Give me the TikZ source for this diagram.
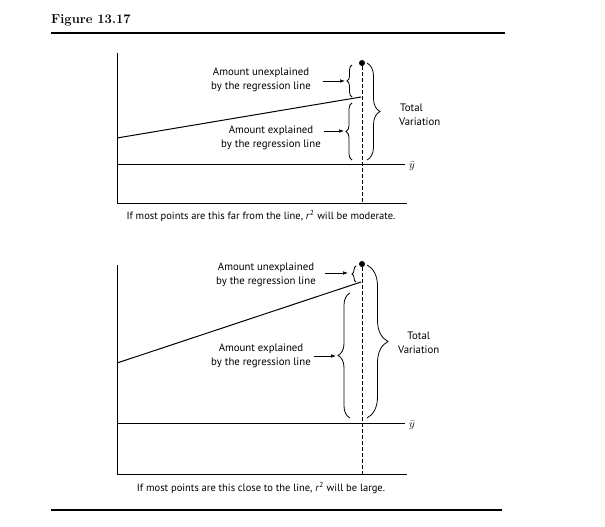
\documentclass[tikz,border=0pt]{standalone}
\usepackage{fontspec}
\newfontfamily\labelfont{PT Sans}
\usetikzlibrary{decorations.pathreplacing,arrows.meta}

\begin{document}
\begin{tikzpicture}[x=1pt,y=-1pt,
    rulebar/.style={line width=1.3pt},
    axis/.style={line width=0.9pt},
    regline/.style={line width=1pt},
    guide/.style={line width=0.8pt,dash pattern=on 3.5pt off 2.5pt},
    curly/.style={decorate,decoration={brace,amplitude=#1},line width=0.8pt},
    obs/.style={circle,fill,inner sep=0pt,minimum size=6pt},
    lbl/.style={align=center,inner sep=0pt,font=\labelfont\fontsize{10.8}{14}\selectfont},
    capt/.style={inner sep=0pt,font=\labelfont\fontsize{10.5}{12}\selectfont},
    pointer/.style={-{Latex[length=5pt,width=3.6pt]},line width=0.7pt}]

    \useasboundingbox (0,0) rectangle (605,527);

    \node[anchor=base west,inner sep=0pt,font=\bfseries\fontsize{13}{15}\selectfont] (title) at (51,24) {Figure 13.17};
    \draw[rulebar] (51,33) -- (505,33);

    \draw[axis] (117,53) -- (117,203) -- (407,203);
    \draw[axis] (117,164) -- (405,164);
    \node[anchor=west,inner sep=0pt,font=\fontsize{11}{12}\selectfont] (ybar1) at (409,166) {$\bar{y}$};
    \draw[regline] (117,138) -- (361,97);
    \node[obs] (obs1) at (362,63) {};
    \coordinate (foot1) at (362,203);
    \draw[guide] (obs1) -- (foot1);
    \draw[curly=5pt] (352,97) -- (352,65);
    \draw[curly=6pt] (352,160) -- (352,103);
    \draw[curly=13pt] (367,63) -- (367,160);
    \coordinate (utip1) at (345,81);
    \coordinate (etip1) at (344,131);
    \node[lbl] (unexp1) at (261,80) {Amount unexplained\\by the regression line};
    \node[lbl] (exp1) at (271,138) {Amount explained\\by the regression line};
    \node[lbl,anchor=west,align=left] (total1) at (399,115) {\hspace{1pt}Total\\Variation};
    \draw[pointer] ([xshift=12pt]unexp1.east |- utip1) -- (utip1);
    \draw[pointer] ([xshift=3pt]exp1.east |- etip1) -- (etip1);
    \node[capt] (cap1) at (261,216) {If most points are this far from the line, \textit{r}\textsuperscript{2} will be moderate.};

    \draw[axis] (117,265) -- (117,474) -- (407,474);
    \draw[axis] (117,423) -- (405,423);
    \node[anchor=west,inner sep=0pt,font=\fontsize{11}{12}\selectfont] (ybar2) at (409,425) {$\bar{y}$};
    \draw[regline] (117,363) -- (361,282);
    \node[obs] (obs2) at (362,264) {};
    \coordinate (foot2) at (362,474);
    \draw[guide] (obs2) -- (foot2);
    \draw[curly=4pt] (356,282) -- (356,266);
    \draw[curly=12pt] (350,418) -- (350,293);
    \draw[curly=21pt] (367,265) -- (367,418);
    \coordinate (utip2) at (348,273);
    \coordinate (etip2) at (336,356);
    \node[lbl] (unexp2) at (266,275) {Amount unexplained\\by the regression line};
    \node[lbl] (exp2) at (261,356) {Amount explained\\by the regression line};
    \node[lbl,anchor=west] (total2) at (398,343) {Total\\Variation};
    \draw[pointer] ([xshift=9pt]unexp2.east |- utip2) -- (utip2);
    \draw[pointer] ([xshift=3pt]exp2.east |- etip2) -- (etip2);
    \node[capt] (cap2) at (261,488) {If most points are this close to the line, \textit{r}\textsuperscript{2} will be large.};

    \draw[rulebar] (51,510) -- (502,510);

\end{tikzpicture}
\end{document}
